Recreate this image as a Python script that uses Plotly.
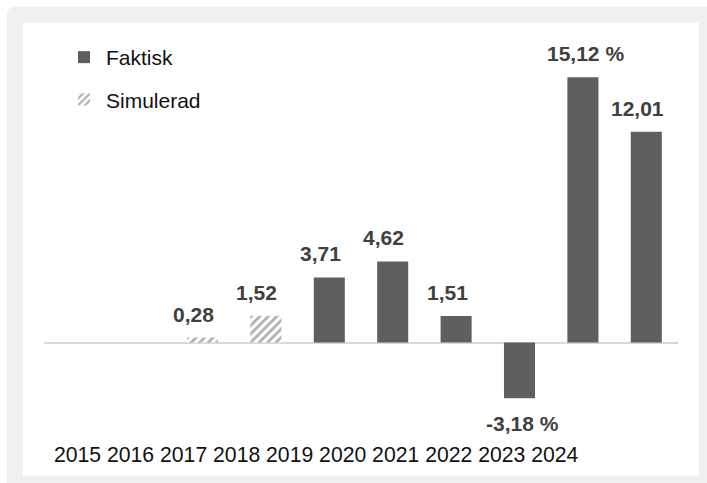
import plotly.graph_objects as go

# ---- data ----
years = ["2015", "2016", "2017", "2018", "2019", "2020", "2021", "2022", "2023", "2024"]
faktisk = [None, None, None, None, 3.71, 4.62, 1.51, -3.18, 15.12, 12.01]
simulerad = [None, None, 0.28, 1.52, None, None, None, None, None, None]
value_labels = [None, None, "0,28", "1,52", "3,71", "4,62", "1,51", "-3,18 %", "15,12 %", "12,01"]
year_tick_labels = ["2015", "2016", "2017", "2018", "2019", "2020", "2021", "2022", "2023", "2024"]

W, H = 707, 483
BAR_COLOR = "#5f5f5f"
FONT = "Liberation Sans, Arial, sans-serif"


def px_x(p):
    return p / W


def px_y(p):
    return 1 - p / H


fig = go.Figure()
fig.add_trace(go.Bar(
    x=years, y=faktisk, name="Faktisk", width=0.49,
    marker=dict(color=BAR_COLOR, line=dict(width=0)),
    legendgroup="a",
))
fig.add_trace(go.Bar(
    x=years, y=simulerad, name="Simulerad", width=0.49,
    marker=dict(color="white", line=dict(width=0),
                pattern=dict(shape="/", fgcolor="#5e5e5e", bgcolor="white",
                             size=6, solidity=0.45)),
    legendgroup="b",
))

# value labels
annotations = []
for i, (f, s, lab) in enumerate(zip(faktisk, simulerad, value_labels)):
    if lab is None:
        continue
    v = f if f is not None else s
    xshift = 3 if "%" in lab else -9
    annotations.append(dict(
        x=i, y=v, xref="x", yref="y", text=f"<b>{lab}</b>", showarrow=False,
        xanchor="center", yanchor="bottom" if v >= 0 else "top",
        yshift=10 if v >= 0 else -12, xshift=xshift,
        font=dict(family=FONT, size=21, color="#404040"),
    ))

# year row at the bottom
annotations.append(dict(
    x=px_x(52), y=px_y(454), xref="paper", yref="paper",
    text=" ".join(year_tick_labels), showarrow=False,
    xanchor="left", yanchor="middle",
    font=dict(family=FONT, size=21.2, color="#111111"),
))

x0, y1 = px_x(7), px_y(7)
rx, ry = 8 / W, 8 / H
frame_path = (f"M {x0},{y1 - ry} Q {x0},{y1} {x0 + rx},{y1} L 1.01,{y1} "
              f"L 1.01,-0.01 L {x0},-0.01 Z")
shapes = [
    dict(type="path", xref="paper", yref="paper", path=frame_path,
         fillcolor="#f0f0f0", line=dict(width=0), layer="below"),
    dict(type="rect", xref="paper", yref="paper", x0=px_x(23), x1=px_x(699), y0=px_y(476), y1=px_y(23),
         fillcolor="white", line=dict(width=0), layer="below"),
]

zero_px = 342.5
scale = 17.55
top_px, bot_px = 40, 440
y_top = (zero_px - top_px) / scale
y_bot = -(bot_px - zero_px) / scale

fig.update_layout(
    width=W, height=H,
    margin=dict(l=0, r=0, t=0, b=0),
    paper_bgcolor="white", plot_bgcolor="rgba(0,0,0,0)",
    barmode="relative",
    showlegend=True,
    legend=dict(x=px_x(62), y=px_y(37), xanchor="left", yanchor="top",
                font=dict(family=FONT, size=21, color="#111111"),
                itemwidth=34,
                bgcolor="rgba(0,0,0,0)", traceorder="grouped", tracegroupgap=12),
    xaxis=dict(domain=[px_x(44), px_x(678)], type="category", range=[-0.5, 9.5],
               showticklabels=False, showgrid=False, zeroline=False, showline=False, ticks=""),
    yaxis=dict(domain=[px_y(bot_px), px_y(top_px)], range=[y_bot, y_top],
               showticklabels=False, showgrid=False, zeroline=True,
               zerolinecolor="#d9d9d9", zerolinewidth=2, showline=False, ticks=""),
    annotations=annotations,
    shapes=shapes,
)

fig.write_html("out.html", config={"displayModeBar": False},
               post_script="document.body.style.margin='0';document.body.style.overflow='hidden';")
